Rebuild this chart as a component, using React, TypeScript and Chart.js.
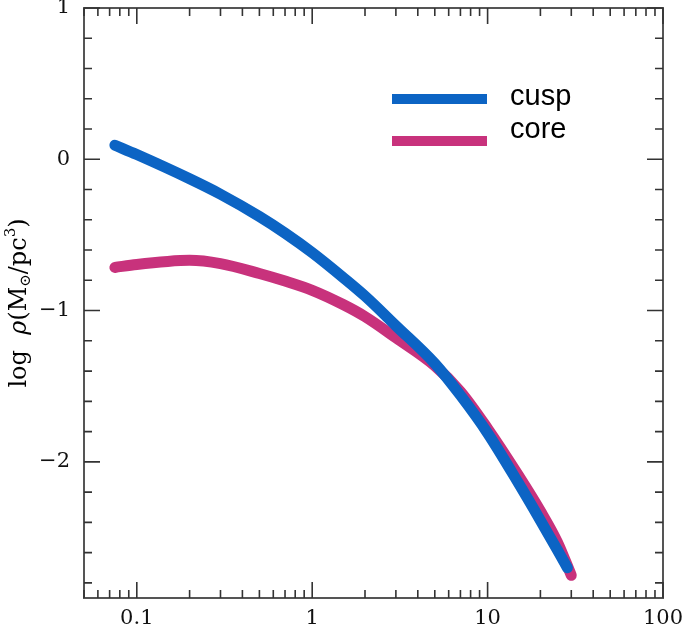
import React, { useEffect, useRef } from "react";
import { Chart, registerables } from "chart.js";

Chart.register(...registerables);

// radius (pc) and log density for each profile
const CUSP_R = [0.075, 0.1, 0.2, 0.3, 0.5, 0.7, 1, 1.5, 2, 3, 5, 7, 10, 15, 20, 25, 28.5];
const CUSP_LOGRHO = [0.093, 0.031, -0.129, -0.231, -0.378, -0.488, -0.617, -0.781, -0.904, -1.1, -1.35, -1.56, -1.81, -2.141, -2.387, -2.583, -2.7];
const CORE_R = [0.075, 0.1, 0.15, 0.2, 0.3, 0.5, 0.7, 1, 1.5, 2, 3, 5, 7, 10, 15, 20, 25, 30];
const CORE_LOGRHO = [-0.715, -0.695, -0.675, -0.668, -0.69, -0.755, -0.805, -0.866, -0.96, -1.04, -1.18, -1.365, -1.535, -1.78, -2.09, -2.325, -2.53, -2.75];

const SERIES_NAMES = ["cusp", "core"];
const SERIES_COLORS = ["rgb(12,100,196)", "rgb(200,50,124)"];

const X_TICKS = [0.1, 1, 10, 100];
const X_TICK_LABELS = ["0.1", "1", "10", "100"];
const Y_TICKS = [-2, -1, 0, 1];
const Y_TICK_LABELS = ["\u22122", "\u22121", "0", "1"];
const X_MIN = 0.05;
const X_MAX = 100;
const Y_MIN = -2.9;
const Y_MAX = 1;
const Y_MINOR_STEP = 0.2;

const framePlugin = {
  id: "frame",
  beforeDatasetsDraw(chart: any) {
    const { ctx, chartArea: a, scales } = chart;
    const xs = scales.x;
    const ys = scales.y;
    ctx.save();
    ctx.strokeStyle = "#555";
    ctx.lineWidth = 2;
    ctx.strokeRect(a.left, a.top, a.right - a.left, a.bottom - a.top);
    ctx.lineWidth = 1.6;
    ctx.strokeStyle = "#333";
    for (let d = -2; d <= 2; d++) {
      for (let k = 1; k <= 9; k++) {
        const v = k * Math.pow(10, d);
        if (v < X_MIN - 1e-9 || v > X_MAX + 1e-9) continue;
        const px = xs.getPixelForValue(v);
        const len = k === 1 ? 16 : 8;
        ctx.beginPath();
        ctx.moveTo(px, a.bottom);
        ctx.lineTo(px, a.bottom - len);
        ctx.moveTo(px, a.top);
        ctx.lineTo(px, a.top + len);
        ctx.stroke();
      }
    }
    const n = Math.floor((Y_MAX - Y_MIN) / Y_MINOR_STEP + 1e-6);
    for (let i = 0; i <= n; i++) {
      const v = Y_MAX - i * Y_MINOR_STEP;
      if (v < Y_MIN - 1e-9) continue;
      const major = Math.abs(v - Math.round(v)) < 1e-6;
      const py = ys.getPixelForValue(v);
      const len = major ? 16 : 8;
      ctx.beginPath();
      ctx.moveTo(a.left, py);
      ctx.lineTo(a.left + len, py);
      ctx.moveTo(a.right, py);
      ctx.lineTo(a.right - len, py);
      ctx.stroke();
    }
    ctx.restore();
  },
  afterDraw(chart: any) {
    const { ctx, chartArea: a } = chart;
    ctx.save();
    const rows = [
      { y: a.top + 91, ty: a.top + 97 },
      { y: a.top + 133, ty: a.top + 130 },
    ];
    rows.forEach((r, i) => {
      ctx.strokeStyle = SERIES_COLORS[i];
      ctx.lineWidth = 10;
      ctx.lineCap = "butt";
      ctx.beginPath();
      ctx.moveTo(392, r.y);
      ctx.lineTo(487, r.y);
      ctx.stroke();
      ctx.fillStyle = "#000";
      ctx.font = "29px 'Liberation Sans', Arial, sans-serif";
      ctx.textBaseline = "alphabetic";
      ctx.textAlign = "left";
      ctx.fillText(SERIES_NAMES[i], 510, r.ty);
    });
    const cy = (a.top + a.bottom) / 2;
    ctx.translate(20, cy);
    ctx.rotate(-Math.PI / 2);
    const base = 24;
    const pieces = [
      { t: "log  ", s: base, dy: 0, it: false },
      { t: "\u03c1", s: base, dy: 0, it: true },
      { t: "(M", s: base, dy: 0, it: false },
      { t: "\u2299", s: 15, dy: 6, it: false },
      { t: "/pc", s: base, dy: 0, it: false },
      { t: "3", s: 15, dy: -9, it: false },
      { t: ")", s: base, dy: 0, it: false },
    ];
    const fontOf = (p: any) => `${p.it ? "italic " : ""}${p.s}px 'DejaVu Serif', serif`;
    let total = 0;
    pieces.forEach((p) => {
      ctx.font = fontOf(p);
      total += ctx.measureText(p.t).width;
    });
    let x = -total / 2;
    ctx.fillStyle = "#000";
    ctx.textBaseline = "middle";
    ctx.textAlign = "left";
    pieces.forEach((p) => {
      ctx.font = fontOf(p);
      ctx.fillText(p.t, x, p.dy);
      x += ctx.measureText(p.t).width;
    });
    ctx.restore();
  },
};

export default function App() {
  const ref = useRef<HTMLCanvasElement | null>(null);
  useEffect(() => {
    if (!ref.current) return;
    const mk = (xs: number[], ys: number[]) => xs.map((x, i) => ({ x, y: ys[i] }));
    const ds = (i: number, xs: number[], ys: number[], w: number) => ({
      label: SERIES_NAMES[i],
      data: mk(xs, ys),
      showLine: true,
      borderColor: SERIES_COLORS[i],
      backgroundColor: SERIES_COLORS[i],
      borderWidth: w,
      pointRadius: 0,
      cubicInterpolationMode: "monotone",
      borderCapStyle: "round",
      borderJoinStyle: "round",
    });
    const chart = new Chart(ref.current, {
      type: "scatter",
      data: {
        datasets: [ds(0, CUSP_R, CUSP_LOGRHO, 11), ds(1, CORE_R, CORE_LOGRHO, 11)],
      } as any,
      options: {
        responsive: false,
        animation: false,
        devicePixelRatio: 1,
        layout: { padding: { top: 8, right: 22, left: 0, bottom: 0 } },
        plugins: { legend: { display: false }, tooltip: { enabled: false } },
        scales: {
          x: {
            type: "logarithmic",
            min: X_MIN,
            max: X_MAX,
            grid: { display: false, drawTicks: false },
            border: { display: false },
            ticks: {
              autoSkip: false,
              maxRotation: 0,
              padding: 8,
              color: "#111",
              font: { family: "'DejaVu Serif', serif", size: 21 },
              callback: (_v: any, i: number) => X_TICK_LABELS[i],
            },
            afterBuildTicks: (s: any) => {
              s.ticks = X_TICKS.map((v) => ({ value: v }));
            },
            afterFit: (s: any) => {
              s.height = 31;
              s.paddingLeft = 0;
              s.paddingRight = 0;
            },
          },
          y: {
            type: "linear",
            min: Y_MIN,
            max: Y_MAX,
            grid: { display: false, drawTicks: false },
            border: { display: false },
            ticks: {
              autoSkip: false,
              padding: 14,
              color: "#111",
              font: { family: "'DejaVu Serif', serif", size: 21 },
              callback: (_v: any, i: number) => Y_TICK_LABELS[i],
            },
            afterBuildTicks: (s: any) => {
              s.ticks = Y_TICKS.map((v) => ({ value: v }));
            },
            afterFit: (s: any) => {
              s.width = 84;
              s.paddingTop = 0;
              s.paddingBottom = 0;
            },
          },
        },
      } as any,
      plugins: [framePlugin],
    });
    return () => chart.destroy();
  }, []);
  return (
    <div style={{ position: "fixed", left: 0, top: 0, width: 685, height: 629, background: "#fff" }}>
      <canvas ref={ref} width={685} height={629} />
    </div>
  );
}
